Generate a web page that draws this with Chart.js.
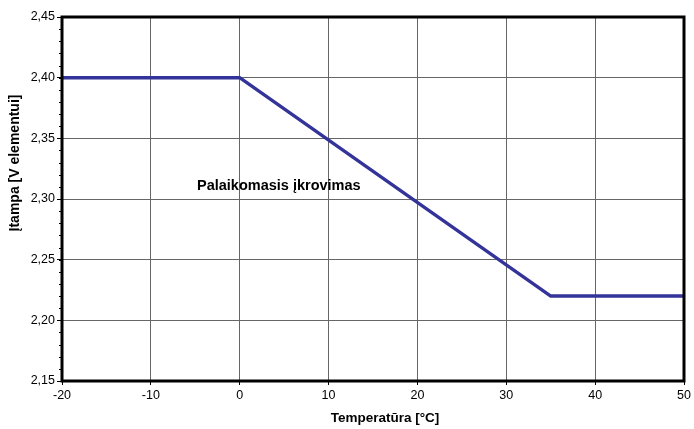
<!DOCTYPE html>
<html><head><meta charset="utf-8">
<script src="https://cdn.jsdelivr.net/npm/chart.js@4/dist/chart.umd.min.js"></script>
<style>html,body{margin:0;padding:0;background:#fff}#w{width:694px;height:429px}</style>
</head><body><div id="w"><canvas id="c"></canvas></div>
<script>
const temps = [-20, 0, 35, 50];
const voltage = [2.40, 2.40, 2.22, 2.22];
const xTicks = [-20, -10, 0, 10, 20, 30, 40, 50];
const yTicks = [2.15, 2.20, 2.25, 2.30, 2.35, 2.40, 2.45];
const annotationText = 'Palaikomasis įkrovimas';
const annotationPos = [4.4, 2.311];
const xTitle = 'Temperatūra [°C]';
const yTitle = 'Įtampa [V elementui]';

const FONT = '"Liberation Sans", Arial, sans-serif';

const framePlugin = {
  id: 'frame',
  afterDraw(chart) {
    const {ctx, chartArea: a, scales} = chart;
    const y = scales.y;
    ctx.save();
    ctx.strokeStyle = '#000'; ctx.lineWidth = 1;
    for (let v = 2.15; v <= 2.4501; v += 0.01) {
      const p = Math.round(y.getPixelForValue(v)) + 0.5;
      ctx.beginPath(); ctx.moveTo(a.left - 3, p); ctx.lineTo(a.left, p); ctx.stroke();
    }
    ctx.lineWidth = 3;
    ctx.strokeRect(a.left, a.top, a.right - a.left, a.bottom - a.top);
    ctx.fillStyle = '#000';
    ctx.textAlign = 'center'; ctx.textBaseline = 'middle';
    ctx.font = 'bold 14.5px ' + FONT;
    ctx.fillText(annotationText, scales.x.getPixelForValue(annotationPos[0]), y.getPixelForValue(annotationPos[1]));
    ctx.font = 'bold 13.5px ' + FONT;
    ctx.fillText(xTitle, 385, 418);
    ctx.translate(15, 163);
    ctx.rotate(-Math.PI / 2);
    ctx.font = 'bold 14px ' + FONT;
    ctx.fillText(yTitle, 0, 0);
    ctx.restore();
  }
};

new Chart(document.getElementById('c'), {
  type: 'line',
  data: {
    datasets: [{
      data: temps.map((t, i) => ({x: t, y: voltage[i]})),
      borderColor: '#333399',
      borderWidth: 3.5,
      pointRadius: 0,
      tension: 0,
      fill: false
    }]
  },
  options: {
    responsive: true,
    maintainAspectRatio: false,
    animation: false,
    layout: {padding: {top: 17, right: 10, left: 0, bottom: 0}},
    plugins: {legend: {display: false}, tooltip: {enabled: false}},
    scales: {
      x: {
        type: 'linear', min: -20, max: 50,
        afterBuildTicks(s) { s.ticks = xTicks.map(v => ({value: v})); },
        afterFit(s) { s.height = 48; },
        ticks: {color: '#000', font: {family: FONT, size: 12.5}, padding: 3, maxRotation: 0},
        grid: {color: '#666', lineWidth: 1, drawTicks: true, tickLength: 4, tickColor: '#000'},
        border: {display: false}
      },
      y: {
        type: 'linear', min: 2.15, max: 2.45,
        afterBuildTicks(s) { s.ticks = yTicks.map(v => ({value: v})); },
        afterFit(s) { s.width = 62; },
        ticks: {color: '#000', font: {family: FONT, size: 12.5}, padding: 2,
          callback: v => v.toFixed(2).replace('.', ',')},
        grid: {color: '#666', lineWidth: 1, drawTicks: true, tickLength: 5, tickColor: '#000'},
        border: {display: false}
      }
    }
  },
  plugins: [framePlugin]
});
</script></body></html>
